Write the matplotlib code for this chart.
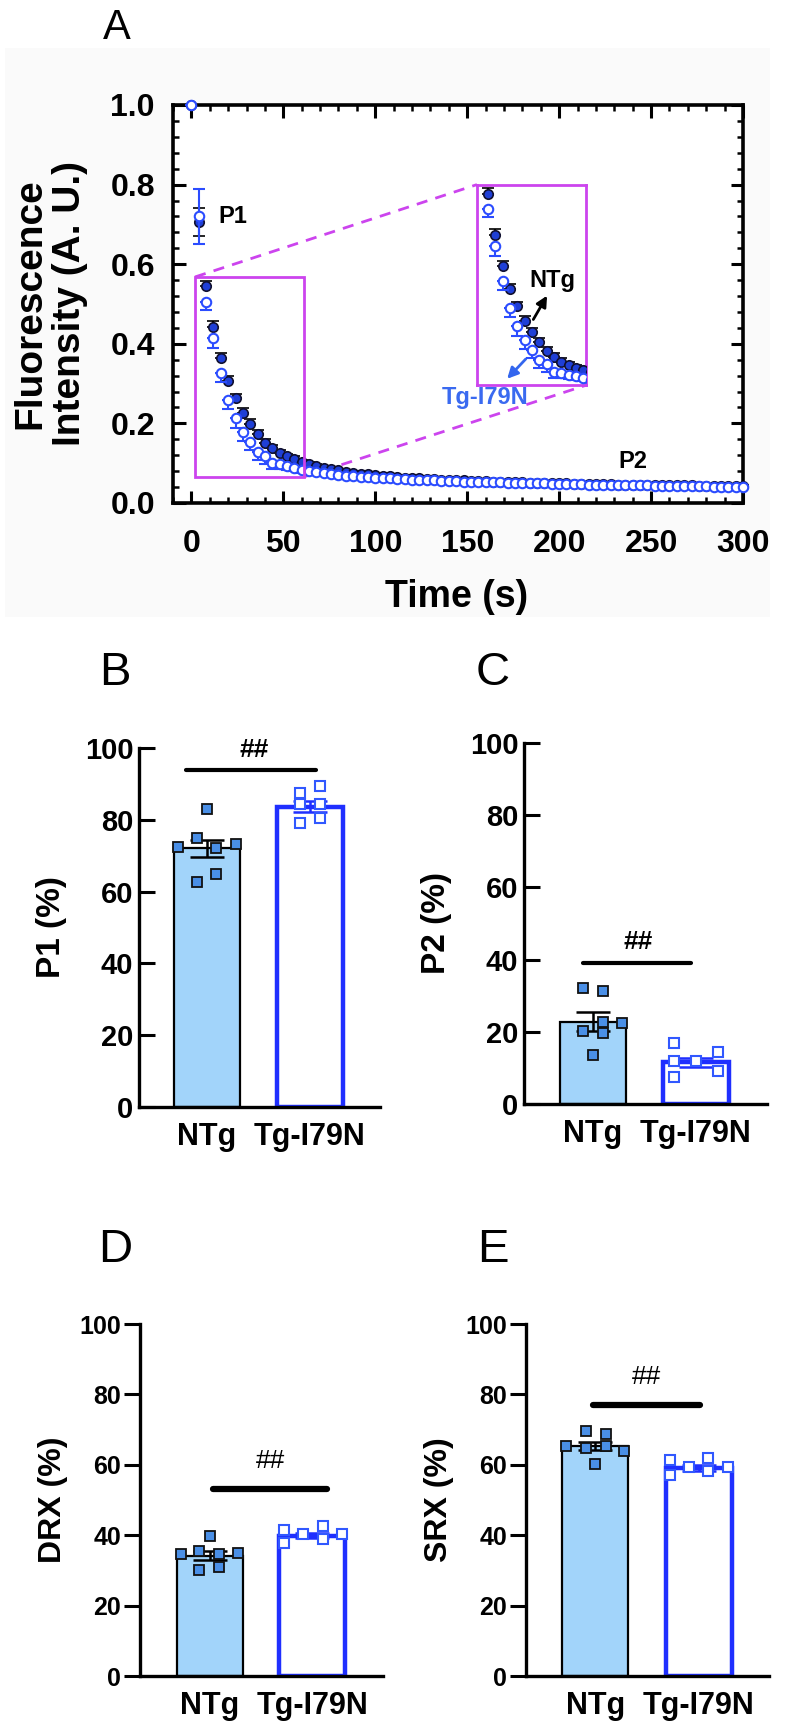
import numpy as np
import matplotlib
matplotlib.use("Agg")
import matplotlib.pyplot as plt
from matplotlib.patches import Rectangle
from matplotlib.ticker import MultipleLocator, FormatStrFormatter

plt.rcParams['font.family'] = ['Liberation Sans', 'DejaVu Sans']

# ---------------- data: panel A ----------------
time_s = list(range(0, 301, 4))
ntg_a = [1.000, 0.705, 0.544, 0.441, 0.364, 0.307, 0.263, 0.227, 0.198, 0.173,
         0.152, 0.137, 0.125, 0.117, 0.110, 0.103, 0.098, 0.093, 0.089, 0.085,
         0.082, 0.079, 0.076, 0.074, 0.072, 0.070, 0.068, 0.067, 0.065, 0.064,
         0.063, 0.062, 0.061, 0.060, 0.059, 0.058, 0.057, 0.057, 0.056, 0.055,
         0.055, 0.054, 0.053, 0.053, 0.052, 0.052, 0.051, 0.051, 0.050, 0.050,
         0.049, 0.049, 0.048, 0.048, 0.048, 0.047, 0.047, 0.047, 0.046, 0.046,
         0.046, 0.045, 0.045, 0.045, 0.045, 0.044, 0.044, 0.044, 0.044, 0.043,
         0.043, 0.043, 0.043, 0.042, 0.042, 0.042]
tg_a = [1.000, 0.720, 0.506, 0.414, 0.326, 0.259, 0.213, 0.179, 0.154, 0.129,
        0.118, 0.100, 0.097, 0.092, 0.088, 0.083, 0.080, 0.077, 0.075, 0.073,
        0.071, 0.069, 0.068, 0.066, 0.065, 0.064, 0.063, 0.062, 0.061, 0.060,
        0.059, 0.058, 0.058, 0.057, 0.056, 0.056, 0.055, 0.054, 0.054, 0.053,
        0.053, 0.052, 0.052, 0.051, 0.051, 0.050, 0.050, 0.049, 0.049, 0.048,
        0.048, 0.048, 0.047, 0.047, 0.046, 0.046, 0.046, 0.045, 0.045, 0.045,
        0.044, 0.044, 0.044, 0.043, 0.043, 0.043, 0.043, 0.042, 0.042, 0.042,
        0.042, 0.041, 0.041, 0.041, 0.041, 0.040]
ntg_sem_a = [0.000, 0.035, 0.015, 0.016, 0.013, 0.012, 0.012, 0.012, 0.012, 0.011,
             0.010, 0.009, 0.008, 0.007, 0.007, 0.006, 0.006, 0.005, 0.005, 0.005,
             0.004, 0.004, 0.004, 0.004, 0.004, 0.004, 0.004, 0.004, 0.004, 0.004,
             0.004, 0.004, 0.004, 0.004, 0.004, 0.004, 0.004, 0.004, 0.004, 0.004,
             0.003, 0.003, 0.003, 0.003, 0.003, 0.003, 0.003, 0.003, 0.003, 0.003,
             0.003, 0.003, 0.003, 0.003, 0.003, 0.003, 0.003, 0.003, 0.003, 0.003,
             0.003, 0.003, 0.003, 0.003, 0.003, 0.003, 0.003, 0.003, 0.003, 0.003,
             0.003, 0.003, 0.003, 0.003, 0.003, 0.003]
tg_sem_a = [0.000, 0.070, 0.020, 0.025, 0.022, 0.022, 0.025, 0.022, 0.020, 0.020,
            0.020, 0.015, 0.012, 0.010, 0.008, 0.007, 0.006, 0.006, 0.005, 0.005,
            0.004, 0.004, 0.004, 0.004, 0.004, 0.004, 0.004, 0.004, 0.004, 0.004,
            0.004, 0.004, 0.004, 0.004, 0.004, 0.004, 0.004, 0.004, 0.004, 0.004,
            0.003, 0.003, 0.003, 0.003, 0.003, 0.003, 0.003, 0.003, 0.003, 0.003,
            0.003, 0.003, 0.003, 0.003, 0.003, 0.003, 0.003, 0.003, 0.003, 0.003,
            0.003, 0.003, 0.003, 0.003, 0.003, 0.003, 0.003, 0.003, 0.003, 0.003,
            0.003, 0.003, 0.003, 0.003, 0.003, 0.003]
p1_time = 4

# ---------------- data: bar panels ----------------
cats = ['NTg', 'Tg-I79N']

p1_mean = [72.1, 83.6]
p1_sem = [2.4, 1.5]
p1_ntg = [83.0, 74.9, 72.4, 72.1, 73.3, 62.7, 64.9]
p1_ntg_x = [0.0, -0.10, -0.28, 0.09, 0.28, -0.10, 0.09]
p1_tg = [87.4, 89.4, 84.4, 84.4, 79.1, 80.5]
p1_tg_x = [-0.10, 0.10, -0.10, 0.10, -0.10, 0.10]

p2_mean = [22.8, 11.5]
p2_sem = [2.6, 1.3]
p2_ntg = [32.0, 31.3, 22.8, 22.4, 20.1, 19.8, 13.6]
p2_ntg_x = [-0.094, 0.094, 0.094, 0.28, -0.094, 0.094, 0.0]
p2_tg = [16.8, 14.5, 12.0, 12.0, 9.2, 7.4]
p2_tg_x = [-0.21, 0.21, -0.21, 0.0, 0.21, -0.21]

drx_mean = [34.2, 39.9]
drx_sem = [1.2, 0.8]
drx_ntg = [39.7, 35.5, 34.8, 34.6, 34.9, 30.0, 30.9]
drx_ntg_x = [0.0, -0.10, -0.28, 0.09, 0.28, -0.10, 0.09]
drx_tg = [41.6, 37.7, 40.2, 42.7, 39.0, 40.2]
drx_tg_x = [-0.28, -0.28, -0.09, 0.10, 0.10, 0.29]

srx_mean = [65.4, 59.1]
srx_sem = [1.2, 0.8]
srx_ntg = [69.7, 68.8, 65.4, 64.8, 65.3, 64.0, 60.2]
srx_ntg_x = [-0.09, 0.10, -0.28, -0.09, 0.10, 0.28, 0.0]
srx_tg = [61.4, 57.2, 59.4, 62.0, 58.2, 59.4]
srx_tg_x = [-0.28, -0.28, -0.09, 0.09, 0.09, 0.28]

# ---------------- figure ----------------
W, H = 786, 1734
fig = plt.figure(figsize=(W / 100, H / 100), dpi=100)
fig.patch.set_facecolor('white')


def px_axes(l, t, r, b):
    return fig.add_axes([l / W, 1 - b / H, (r - l) / W, (b - t) / H])


def fx(x):
    return x / W


def fy(y):
    return 1 - y / H


# very faint background of panel A
fig.patches.append(Rectangle((fx(5), fy(617)), fx(765), (617 - 48) / H,
                             transform=fig.transFigure, facecolor='#fafafa',
                             edgecolor='none', zorder=-10))

MAG = '#cc44ee'
NAVY = '#1f3fd6'
BLUE_O = '#2b4cff'

# ---------------- Panel A ----------------
axA = px_axes(173, 105, 743, 503)
axA.set_facecolor('white')
t = np.array(time_s)
ntg = np.array(ntg_a)
tg = np.array(tg_a)
ns = np.array(ntg_sem_a)
ts = np.array(tg_sem_a)
ntg_lo = np.where(t == p1_time, ns, 0)
tg_hi = np.where(t == p1_time, ts, 0)


def draw_curves(ax, clip):
    ax.errorbar(t, ntg, yerr=[ntg_lo, ns], fmt='o', ms=6.8, mfc=NAVY, mec='#101030',
                mew=1.2, ecolor='black', elinewidth=1.5, capsize=4.5, capthick=1.5,
                clip_on=clip, zorder=3)
    ax.errorbar(t, tg, yerr=[ts, tg_hi], fmt='o', ms=6.8, mfc='white', mec=BLUE_O,
                mew=1.5, ecolor=BLUE_O, elinewidth=1.5, capsize=4.5, capthick=1.5,
                clip_on=clip, zorder=4)


draw_curves(axA, False)
axA.set_xlim(-10, 300)
axA.set_ylim(0, 1.0)
axA.xaxis.set_major_locator(MultipleLocator(50))
axA.xaxis.set_minor_locator(MultipleLocator(10))
axA.yaxis.set_major_locator(MultipleLocator(0.2))
axA.yaxis.set_minor_locator(MultipleLocator(0.04))
axA.yaxis.set_major_formatter(FormatStrFormatter('%.1f'))
axA.tick_params(which='both', direction='in', top=True, right=True)
axA.tick_params(which='major', length=9, width=2.2, labelsize=23)
axA.tick_params(which='minor', length=4.5, width=1.8)
axA.tick_params(axis='x', pad=19)
axA.tick_params(axis='y', pad=13)
for lab in axA.get_xticklabels() + axA.get_yticklabels():
    lab.set_fontweight('bold')
for sp in axA.spines.values():
    sp.set_linewidth(2.6)

# zoom box and connectors
small = (2, 0.066, 61.5, 0.568)
big = (155.3, 0.296, 214.7, 0.800)
axA.add_patch(Rectangle((small[0], small[1]), small[2] - small[0], small[3] - small[1],
                        fill=False, edgecolor=MAG, lw=2, zorder=5))
axA.plot([small[0], big[0]], [small[3], big[3]], color=MAG, lw=2, ls=(0, (4, 3)), zorder=2)
axA.plot([small[2], big[2]], [small[1], big[1]], color=MAG, lw=2, ls=(0, (4, 3)), zorder=2)

axin = axA.inset_axes([big[0], big[1], big[2] - big[0], big[3] - big[1]], transform=axA.transData)
draw_curves(axin, True)
axin.set_xlim(small[0], small[2])
axin.set_ylim(small[1], small[3])
axin.set_xticks([])
axin.set_yticks([])
axin.set_facecolor('white')
for sp in axin.spines.values():
    sp.set_edgecolor(MAG)
    sp.set_linewidth(2)

axin.annotate('', xy=(194.2, 0.527), xytext=(185.2, 0.455), xycoords=axA.transData,
              textcoords=axA.transData, annotation_clip=False,
              arrowprops=dict(arrowstyle='-|>', color='black', lw=2, mutation_scale=16))
axin.annotate('', xy=(170.7, 0.307), xytext=(182.9, 0.367), xycoords=axA.transData,
              textcoords=axA.transData, annotation_clip=False,
              arrowprops=dict(arrowstyle='-|>', color='#3366ee', lw=2, mutation_scale=16))
axin.text(196.5, 0.56, 'NTg', transform=axA.transData, fontsize=17, fontweight='bold',
          ha='center', va='center', clip_on=False, zorder=10)
axin.text(159.8, 0.265, 'Tg-I79N', transform=axA.transData, fontsize=17, fontweight='bold',
          color='#3a6af0', ha='center', va='center', clip_on=False, zorder=10)

axA.text(14.5, 0.72, 'P1', fontsize=17, fontweight='bold', ha='left', va='center')
axA.text(240, 0.104, 'P2', fontsize=17, fontweight='bold', ha='center', va='center')

fig.text(fx(50), fy(304), 'Fluorescence\nIntensity (A. U.)', rotation=90, fontsize=28,
         fontweight='bold', ha='center', va='center', linespacing=1.15)
fig.text(fx(457), fy(597), 'Time (s)', fontsize=27, fontweight='bold', ha='center', va='center')
fig.text(fx(117), fy(28), 'A', fontsize=30, ha='center', va='center')

# ---------------- Bar panels ----------------
NTG_FILL = '#a2d4fa'
NTG_PT = '#4a8fe6'
TG_EDGE = '#1f2fff'
TG_PT = '#3158ff'


def bar_panel(rect, means, sems, ntg_pts, ntg_x, tg_pts, tg_x, ylabel, ylab_x,
              sig_y, sig_x0, sig_x1, sig_lw, hash_y, hash_x, hash_bold,
              tick_dir, ticksize, labsize, ylabsize, xlim):
    ax = px_axes(*rect)
    pos = [0, 1]
    ax.bar(pos[0], means[0], width=0.64, color=NTG_FILL, edgecolor='black', lw=1.6, zorder=1)
    ax.bar(pos[1], means[1], width=0.64, color='white', edgecolor=TG_EDGE, lw=3.2, zorder=1)
    ax.errorbar(pos[0], means[0], yerr=sems[0], fmt='none', ecolor='black', elinewidth=1.8,
                capsize=12, capthick=1.8, zorder=3)
    ax.errorbar(pos[1], means[1], yerr=sems[1], fmt='none', ecolor=TG_EDGE, elinewidth=1.8,
                capsize=12, capthick=1.8, zorder=3)
    ax.plot(np.array(ntg_x) + pos[0], ntg_pts, 's', ms=7.5, mfc=NTG_PT, mec='#111111',
            mew=1.3, ls='none', zorder=4, clip_on=False)
    ax.plot(np.array(tg_x) + pos[1], tg_pts, 's', ms=7.5, mfc='white', mec=TG_PT,
            mew=1.5, ls='none', zorder=4, clip_on=False)
    ax.plot([sig_x0, sig_x1], [sig_y, sig_y], color='black', lw=sig_lw,
            solid_capstyle='round', clip_on=False)
    ax.text(hash_x, hash_y, '##', fontsize=19, fontweight='bold' if hash_bold else 'normal',
            ha='center', va='center')
    ax.set_xlim(*xlim)
    ax.set_ylim(0, 100)
    ax.set_yticks([0, 20, 40, 60, 80, 100])
    ax.set_xticks(pos)
    ax.set_xticklabels(cats, fontsize=labsize, fontweight='bold')
    ax.tick_params(axis='x', length=0, pad=11)
    ax.tick_params(axis='y', direction=tick_dir, length=11.5, width=2.2, labelsize=ticksize,
                   pad=4 if tick_dir == 'in' else 2)
    for lab in ax.get_yticklabels():
        lab.set_fontweight('bold')
    for s in ['top', 'right']:
        ax.spines[s].set_visible(False)
    for s in ['left', 'bottom']:
        ax.spines[s].set_linewidth(2.4)
    ax.patch.set_alpha(0)
    fig.text(fx(ylab_x), fy((rect[1] + rect[3]) / 2), ylabel, rotation=90, fontsize=ylabsize,
             fontweight='bold', ha='center', va='center')
    return ax


bar_panel((139, 748, 380, 1107), p1_mean, p1_sem, p1_ntg, p1_ntg_x, p1_tg, p1_tg_x,
          'P1 (%)', 52, 94, -0.2, 1.06, 3, 99.5, 0.46, True, 'in', 21, 22, 24, (-0.66, 1.68))
bar_panel((524, 743, 767, 1104), p2_mean, p2_sem, p2_ntg, p2_ntg_x, p2_tg, p2_tg_x,
          'P2 (%)', 437, 39, -0.1, 0.95, 3, 45, 0.44, True, 'in', 21, 22, 24, (-0.67, 1.69))
bar_panel((140, 1324, 383, 1676), drx_mean, drx_sem, drx_ntg, drx_ntg_x, drx_tg, drx_tg_x,
          'DRX (%)', 53, 53, 0.03, 1.14, 4.5, 61, 0.59, False, 'out', 18, 22, 23, (-0.68, 1.69))
bar_panel((526, 1324, 769, 1676), srx_mean, srx_sem, srx_ntg, srx_ntg_x, srx_tg, srx_tg_x,
          'SRX (%)', 439, 77, -0.02, 1.01, 4.5, 85, 0.5, False, 'out', 18, 22, 23, (-0.67, 1.68))

for letter, x, y in [('B', 115, 673), ('C', 493, 673), ('D', 115, 1250), ('E', 493, 1250)]:
    fig.text(fx(x), fy(y), letter, fontsize=34, ha='center', va='center')

fig.savefig('out.png', dpi=100)
